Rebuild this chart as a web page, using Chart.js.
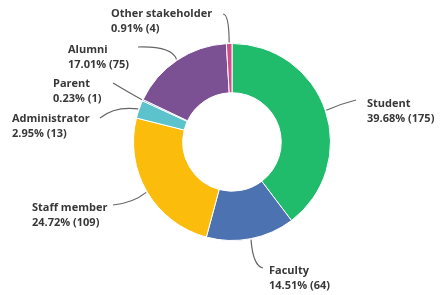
<!DOCTYPE html>
<html>
<head>
<meta charset="utf-8">
<script src="https://cdn.jsdelivr.net/npm/chart.js@4"></script>
<style>
  html, body { margin: 0; padding: 0; background: #fff; }
  #wrap { width: 441px; height: 295px; position: relative; }
</style>
</head>
<body>
<div id="wrap"><canvas id="roleChart"></canvas></div>
<script>
// data
const categories = ['Student', 'Faculty', 'Staff member', 'Administrator', 'Parent', 'Alumni', 'Other stakeholder'];
const counts = [175, 64, 109, 13, 1, 75, 4];
const colors = ['#20BC6C', '#4C72B2', '#FBBC0C', '#5CC2CC', '#3F86C6', '#7C5194', '#D64A8C'];

// where each label sits, relative to the donut centre (text left/baseline, line end, curve control)
const labelLayout = [
    { tx: 135, ty: -35, ex: 124, ey: -42, cx: 108, cy: -38 },
    { tx: 37, ty: 132, ex: 31, ey: 126, cx: 21, cy: 124 },
    { tx: -200, ty: 69, ex: -119, ey: 63, cx: -99, cy: 61 },
    { tx: -220, ty: -20, ex: -132, ey: -24, cx: -117, cy: -36 },
    { tx: -179, ty: -55, ex: -119, ey: -59, cx: -104, cy: -50 },
    { tx: -164, ty: -89, ex: -94, ey: -95, cx: -60, cy: -96 },
    { tx: -121, ty: -125, ex: -9, ey: -128, cx: -3, cy: -128 }
];

const total = counts.reduce((a, b) => a + b, 0);

const calloutPlugin = {
    id: 'callouts',
    afterDraw(chart) {
        const ctx = chart.ctx;
        const meta = chart.getDatasetMeta(0);
        ctx.save();
        meta.data.forEach((arc, i) => {
            const p = arc.getProps(['x', 'y', 'startAngle', 'endAngle', 'outerRadius'], true);
            const mid = (p.startAngle + p.endAngle) / 2;
            const r = p.outerRadius + 1;
            const sx = p.x + Math.cos(mid) * r;
            const sy = p.y + Math.sin(mid) * r;
            const lay = labelLayout[i];

            ctx.strokeStyle = '#666';
            ctx.lineWidth = 1.2;
            ctx.beginPath();
            ctx.moveTo(sx, sy);
            ctx.quadraticCurveTo(p.x + lay.cx, p.y + lay.cy, p.x + lay.ex, p.y + lay.ey);
            ctx.stroke();

            const pct = (counts[i] / total * 100).toFixed(2);
            ctx.fillStyle = '#383838';
            ctx.font = '700 11px "Open Sans"';
            ctx.textAlign = 'left';
            ctx.textBaseline = 'alphabetic';
            ctx.fillText(categories[i], p.x + lay.tx, p.y + lay.ty);
            ctx.fillText(pct + '% (' + counts[i] + ')', p.x + lay.tx, p.y + lay.ty + 15);
        });
        ctx.restore();
    }
};

new Chart(document.getElementById('roleChart'), {
    type: 'doughnut',
    data: {
        labels: categories,
        datasets: [{
            data: counts,
            backgroundColor: colors,
            borderColor: '#ffffff',
            borderWidth: 1
        }]
    },
    options: {
        responsive: true,
        maintainAspectRatio: false,
        animation: false,
        cutout: '50%',
        layout: { padding: { left: 133, right: 110, top: 43, bottom: 54 } },
        plugins: {
            legend: { display: false },
            tooltip: { enabled: false }
        }
    },
    plugins: [calloutPlugin]
});
</script>
</body>
</html>
